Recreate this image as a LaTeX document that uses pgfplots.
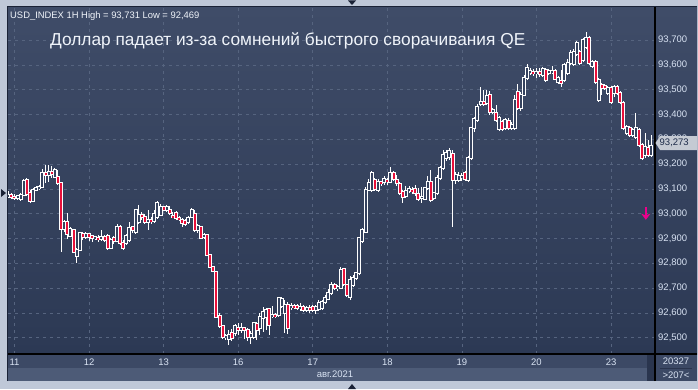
\documentclass[border=0pt]{standalone}
\usepackage{fontspec}
\setmainfont{Liberation Sans}
\usepackage{pgfplots}
\pgfplotsset{compat=1.18}
\usepackage{pgfplotstable}
\usetikzlibrary{arrows.meta}
\definecolor{framegray}{HTML}{BFC8D8}
\definecolor{bgtop}{HTML}{3F4C68}
\definecolor{bgbot}{HTML}{2C3954}
\definecolor{stripA}{HTML}{3C4965}
\definecolor{stripB}{HTML}{4D5B77}
\definecolor{scroll}{HTML}{2A354E}
\definecolor{gridcol}{HTML}{56647F}
\definecolor{ticktext}{HTML}{D8E2F2}
\definecolor{titletext}{HTML}{F0F4FA}
\definecolor{hollowfill}{HTML}{35425E}
\definecolor{candred}{HTML}{E8103A}
\definecolor{boxgray}{HTML}{C5CAD3}
\definecolor{boxtext}{HTML}{1C2A48}
\definecolor{darkline}{HTML}{1A2236}
\newcommand\tickfont{\fontsize{9.5}{11}\selectfont}

\pgfplotstableread{
t o h l c
-2 93.071 93.091 93.063 93.075
-1 93.075 93.083 93.059 93.067
0 93.067 93.079 93.055 93.063
1 93.063 93.075 93.055 93.071
2 93.059 93.083 93.051 93.075
3 93.075 93.139 93.071 93.131
4 93.135 93.143 93.071 93.079
5 93.083 93.095 93.043 93.051
6 93.051 93.103 93.047 93.095
7 93.095 93.111 93.091 93.103
8 93.103 93.115 93.095 93.107
9 93.107 93.180 93.103 93.163
10 93.163 93.196 93.123 93.155
11 93.155 93.196 93.127 93.167
12 93.167 93.192 93.143 93.159
13 93.147 93.184 93.143 93.176
14 93.147 93.176 93.115 93.123
15 93.123 93.127 92.845 92.938
16 92.938 92.974 92.926 92.966
17 92.966 93.002 92.897 92.918
18 92.913 92.946 92.909 92.938
19 92.934 92.938 92.841 92.845
20 92.829 92.861 92.801 92.853
21 92.853 92.926 92.849 92.922
22 92.918 92.926 92.893 92.909
23 92.909 92.926 92.901 92.918
24 92.918 92.922 92.889 92.909
25 92.909 92.913 92.885 92.901
26 92.901 92.909 92.893 92.905
27 92.901 92.913 92.885 92.897
28 92.897 92.934 92.893 92.905
29 92.905 92.913 92.885 92.893
30 92.909 92.918 92.853 92.861
31 92.861 92.901 92.857 92.893
32 92.901 92.909 92.877 92.889
33 92.893 92.958 92.889 92.946
34 92.946 92.954 92.873 92.881
35 92.881 92.893 92.853 92.861
36 92.881 92.918 92.873 92.909
37 92.893 92.966 92.889 92.942
38 92.946 92.950 92.922 92.934
39 92.926 93.018 92.918 93.014
40 92.966 93.034 92.958 92.994
41 92.994 93.006 92.974 92.986
42 92.986 92.998 92.958 92.966
43 92.966 93.014 92.934 92.974
44 92.974 92.986 92.958 92.970
45 92.970 93.014 92.962 92.998
46 92.986 93.051 92.978 93.043
47 92.994 93.038 92.990 93.026
48 93.026 93.030 93.010 93.014
49 93.014 93.034 93.006 93.026
50 93.014 93.030 92.994 93.002
51 92.990 93.006 92.982 92.986
52 93.002 93.010 92.974 92.982
53 92.982 92.990 92.970 92.978
54 92.974 92.982 92.946 92.962
55 92.970 92.978 92.950 92.958
56 92.966 92.990 92.958 92.982
57 92.986 93.022 92.982 93.014
58 92.998 93.014 92.926 92.934
59 92.934 92.958 92.922 92.950
60 92.946 92.950 92.897 92.905
61 92.905 92.922 92.897 92.913
62 92.913 92.918 92.829 92.833
63 92.833 92.837 92.780 92.784
64 92.784 92.788 92.764 92.768
65 92.768 92.772 92.579 92.583
66 92.587 92.599 92.539 92.547
67 92.547 92.551 92.494 92.502
68 92.502 92.514 92.490 92.506
69 92.494 92.530 92.469 92.510
70 92.518 92.534 92.486 92.498
71 92.518 92.555 92.506 92.547
72 92.539 92.559 92.514 92.534
73 92.534 92.559 92.518 92.539
74 92.539 92.543 92.494 92.534
75 92.530 92.539 92.486 92.502
76 92.502 92.526 92.474 92.514
77 92.502 92.563 92.494 92.559
78 92.555 92.563 92.490 92.534
79 92.539 92.599 92.510 92.583
80 92.579 92.623 92.522 92.603
81 92.583 92.619 92.534 92.611
82 92.615 92.619 92.510 92.551
83 92.587 92.627 92.579 92.591
84 92.591 92.599 92.579 92.587
85 92.591 92.664 92.583 92.659
86 92.627 92.664 92.619 92.655
87 92.599 92.651 92.518 92.631
88 92.631 92.643 92.514 92.539
89 92.623 92.639 92.611 92.627
90 92.627 92.635 92.615 92.623
91 92.627 92.635 92.611 92.619
92 92.619 92.639 92.607 92.623
93 92.623 92.631 92.603 92.611
94 92.611 92.627 92.603 92.619
95 92.619 92.631 92.599 92.611
96 92.623 92.631 92.603 92.611
97 92.611 92.631 92.595 92.623
98 92.615 92.651 92.607 92.639
99 92.619 92.651 92.611 92.643
100 92.643 92.672 92.635 92.659
101 92.659 92.696 92.651 92.680
102 92.680 92.724 92.672 92.712
103 92.712 92.720 92.692 92.700
104 92.700 92.712 92.688 92.704
105 92.700 92.784 92.696 92.772
106 92.776 92.780 92.708 92.716
107 92.712 92.716 92.664 92.672
108 92.664 92.748 92.651 92.732
109 92.712 92.752 92.704 92.740
110 92.740 92.764 92.732 92.760
111 92.760 92.905 92.752 92.901
112 92.893 92.942 92.885 92.934
113 92.926 93.107 92.922 93.095
114 93.095 93.139 93.091 93.123
115 93.095 93.172 93.087 93.163
116 93.135 93.143 93.091 93.099
117 93.095 93.139 93.087 93.127
118 93.127 93.131 93.111 93.123
119 93.127 93.151 93.115 93.139
120 93.135 93.143 93.115 93.131
121 93.127 93.188 93.123 93.163
122 93.163 93.172 93.131 93.139
123 93.135 93.155 93.111 93.123
124 93.119 93.127 93.075 93.083
125 93.087 93.095 93.043 93.067
126 93.071 93.111 93.063 93.091
127 93.095 93.111 93.083 93.099
128 93.095 93.107 93.079 93.091
129 93.099 93.115 93.071 93.083
130 93.079 93.103 93.051 93.059
131 93.063 93.107 93.043 93.067
132 93.059 93.107 93.055 93.103
133 93.103 93.151 93.095 93.127
134 93.127 93.176 93.047 93.055
135 93.063 93.087 93.055 93.083
136 93.083 93.155 93.075 93.143
137 93.147 93.192 93.135 93.184
138 93.184 93.256 93.176 93.236
139 93.224 93.256 93.212 93.244
140 93.228 93.264 93.216 93.252
141 93.240 93.256 92.946 93.139
142 93.135 93.167 93.119 93.155
143 93.135 93.167 93.127 93.151
144 93.147 93.163 93.131 93.151
145 93.163 93.172 93.131 93.139
146 93.135 93.232 93.127 93.224
147 93.224 93.349 93.216 93.345
148 93.345 93.389 93.329 93.381
149 93.377 93.442 93.369 93.430
150 93.442 93.510 93.434 93.450
151 93.450 93.498 93.434 93.442
152 93.446 93.498 93.438 93.474
153 93.478 93.494 93.401 93.409
154 93.409 93.426 93.405 93.417
155 93.405 93.438 93.369 93.377
156 93.341 93.393 93.333 93.385
157 93.369 93.377 93.333 93.341
158 93.345 93.385 93.337 93.377
159 93.373 93.385 93.337 93.345
160 93.345 93.369 93.337 93.357
161 93.345 93.478 93.337 93.458
162 93.490 93.522 93.417 93.426
163 93.426 93.490 93.417 93.478
164 93.478 93.559 93.474 93.547
165 93.547 93.603 93.538 93.587
166 93.571 93.587 93.559 93.575
167 93.571 93.583 93.555 93.567
168 93.567 93.587 93.547 93.571
169 93.571 93.587 93.551 93.563
170 93.559 93.591 93.551 93.583
171 93.579 93.587 93.530 93.538
172 93.567 93.583 93.559 93.575
173 93.571 93.595 93.563 93.575
174 93.575 93.583 93.538 93.542
175 93.530 93.555 93.522 93.547
176 93.534 93.579 93.510 93.526
177 93.538 93.607 93.530 93.599
178 93.567 93.623 93.559 93.607
179 93.607 93.659 93.599 93.647
180 93.603 93.663 93.595 93.651
181 93.647 93.696 93.639 93.688
182 93.651 93.659 93.599 93.607
183 93.619 93.708 93.611 93.700
184 93.671 93.731 93.663 93.708
185 93.708 93.716 93.599 93.607
186 93.595 93.619 93.587 93.611
187 93.611 93.619 93.522 93.530
188 93.458 93.547 93.450 93.538
189 93.518 93.526 93.478 93.506
190 93.514 93.522 93.498 93.506
191 93.486 93.514 93.478 93.506
192 93.506 93.514 93.442 93.450
193 93.486 93.518 93.470 93.510
194 93.510 93.518 93.478 93.486
195 93.486 93.494 93.442 93.450
196 93.446 93.454 93.337 93.345
197 93.325 93.357 93.317 93.349
198 93.345 93.353 93.309 93.317
199 93.317 93.345 93.309 93.337
200 93.309 93.405 93.301 93.345
201 93.337 93.345 93.268 93.276
202 93.276 93.284 93.216 93.224
203 93.236 93.325 93.224 93.268
204 93.264 93.297 93.228 93.236
205 93.236 93.317 93.228 93.273
}\candles

\pgfplotsset{candle/.style={draw=none, no markers, forget plot,
  error bars/y dir=both, error bars/y explicit, error bars/error mark=none}}

\begin{document}
\begin{tikzpicture}[x=1pt,y=1pt]
\useasboundingbox (0,0) rectangle (698,389);
\fill[framegray] (0,0) rectangle (698,389);
\shade[top color=bgtop, bottom color=bgbot] (8,35) rectangle (697,382);
\fill[stripA] (8,21) rectangle (697,35);
\fill[stripB] (8,8) rectangle (647,21);
\fill[scroll] (647,8) rectangle (655,34);
\fill[stripA] (655,8) rectangle (697,35);
\draw[darkline, line width=0.8pt] (7.6,8) -- (7.6,382.4) -- (697,382.4);
% frame triangles
\fill[darkline] (348,388.5) -- (356,388.5) -- (352,384) -- cycle;
\fill[darkline] (348,0) -- (356,0) -- (352,5) -- cycle;
\fill[darkline] (1,200) -- (1,192) -- (6,196) -- cycle;

\begin{axis}[
  at={(8pt,35pt)}, anchor=south west,
  scale only axis, width=647pt, height=347pt,
  xmin=-2.09, xmax=206.15, ymin=92.4339, ymax=93.8331,
  axis line style={draw=none},
  major tick length=0pt,
  xtick={0,24,48,72,96,120,144,168,192},
  xticklabels={11,12,13,16,17,18,19,20,23},
  ytick={92.5,92.6,92.7,92.8,92.9,93.0,93.1,93.2,93.3,93.4,93.5,93.6,93.7},
  yticklabels={{92,500},{92,600},{92,700},{92,800},{92,900},{93,000},{93,100},{93,200},{93,300},{93,400},{93,500},{93,600},{93,700}},
  yticklabel pos=right,
  yticklabel style={anchor=west, inner sep=0pt, xshift=3pt, text=ticktext, font=\tickfont},
  xticklabel style={anchor=north, inner sep=0pt, yshift=-4.5pt, text=ticktext, font=\tickfont},
  grid=major,
  major grid style={gridcol, line width=0.6pt, dash pattern=on 3pt off 4pt},
]
% wicks
\addplot[candle, error bars/error bar style={draw=white, line width=1pt}]
  table[x=t, y expr={(\thisrow{h}+\thisrow{l})/2}, y error expr={(\thisrow{h}-\thisrow{l})/2}] {\candles};
% body outline
\addplot[candle, error bars/error bar style={draw=white, line width=4pt}]
  table[x=t, y expr={(\thisrow{o}+\thisrow{c})/2}, y error expr={abs(\thisrow{o}-\thisrow{c})/2+0.004}] {\candles};
% falling bodies
\addplot[candle, error bars/error bar style={draw=candred, line width=2pt}]
  table[x=t, y expr={(\thisrow{c}<\thisrow{o}) ? (\thisrow{o}+\thisrow{c})/2 : 92}, y error expr={abs(\thisrow{o}-\thisrow{c})/2}] {\candles};
% rising bodies
\addplot[candle, error bars/error bar style={draw=hollowfill, line width=2pt}]
  table[x=t, y expr={(\thisrow{c}<\thisrow{o}) ? 92 : (\thisrow{o}+\thisrow{c})/2}, y error expr={abs(\thisrow{o}-\thisrow{c})/2}] {\candles};
% signal arrow
\addplot[magenta, line width=2.2pt, -{Stealth[length=6pt, width=9pt, inset=1.5pt]}, quiver={u=0, v=-0.05}]
  coordinates {(203.2,93.025)};
\end{axis}

\draw[black, line width=1.2pt] (8,35) -- (697,35);
\draw[black, line width=1.2pt] (655,8) -- (655,382);
% price box
\fill[boxgray] (655.5,246) -- (660,253) -- (697,253) -- (697,239) -- (660,239) -- cycle;
\node[anchor=west, inner sep=0pt, text=boxtext, font=\tickfont] at (659.5,246) {93,273};
% texts
\node[anchor=base west, inner sep=0pt, text=titletext, font=\fontsize{17.3}{19}\selectfont] at (50,343.5) {Доллар падает из-за сомнений быстрого сворачивания QE};
\node[anchor=base west, inner sep=0pt, text=titletext, font=\fontsize{9.4}{10}\selectfont] at (10,370.5) {USD\_INDEX 1H High = 93,731 Low = 92,469};
\node[inner sep=0pt, text=ticktext, font=\tickfont] at (335,14.5) {авг.2021};
\node[inner sep=0pt, text=ticktext, font=\tickfont] at (676,27.5) {20327};
\node[inner sep=0pt, text=ticktext, font=\tickfont] at (676,14) {>207<};
\draw[scroll, line width=0.8pt] (660,21) -- (692,21);
\end{tikzpicture}
\end{document}
